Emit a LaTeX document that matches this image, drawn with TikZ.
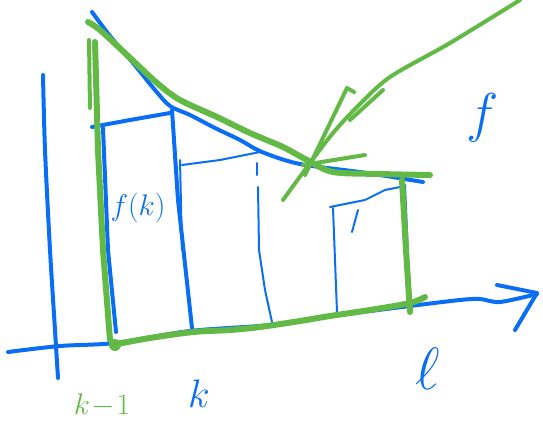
\documentclass[tikz,border=0pt]{standalone}
\usepackage{xcolor}
\definecolor{penblue}{RGB}{10,110,245}
\definecolor{pengreen}{RGB}{98,185,70}
\begin{document}
\begin{tikzpicture}[x=1pt,y=-1pt,line cap=round,line join=round]

    \tikzset{
      bluepen/.style={
        color={penblue},
        line width = 4,
      },
      thinpen/.style={
        color={penblue},
        line width = 2,
      },
      greenpen/.style={
        color={pengreen},
        line width = 6,
      },
      hand/.style={
        font=\Huge,
        scale=#1,
        transform shape,
      },
    }
    \useasboundingbox (0,0) rectangle (543,436);

	% axes
	\draw[bluepen] plot[smooth] coordinates {(43,75) (45,150) (50,250) (55,330) (58,378)};
	\draw[bluepen] plot[smooth] coordinates {(8,352) (60,346) (115,343) (190,331) (270,325) (340,315) (410,306) (460,300) (480,299) (500,302) (537,294)};
	\draw[bluepen] (497,285)--(537,293)--(515,330);
	% the function
	\draw[bluepen] plot[smooth] coordinates {(92,12) (110,36) (133,63) (155,90) (170,106) (190,115) (215,128) (240,140) (262,152) (300,164) (367,173) (423,182)};
	% rectangles
	\draw[bluepen] (92,127)--(130,120)--(170,113);
	\draw[bluepen] (103,128)--(108,250)--(116,332);
	\draw[bluepen] (172,110)--(178,200)--(192,328);
	\draw[thinpen] (180,160)--(182,250);
	\draw[thinpen] (182,165)--(220,160)--(260,152);
	\draw[thinpen] (257,163)--(257,175);
	\draw[thinpen] (258,187)--(259,250)--(265,290)--(272,322);
	\draw[thinpen] (330,207)--(365,200)--(385,190)--(400,187);
	\draw[thinpen] (333,208)--(335,260)--(337,312);
	\draw[thinpen] (358,210)--(352,232);
	\draw[thinpen] (405,185)--(410,300);
	% upper sum
	\draw[greenpen] plot[smooth] coordinates {(88,22) (100,30) (127,55) (157,83) (180,100) (217,117) (250,133) (283,147) (307,160) (333,172) (380,174) (430,175)};
	\draw[greenpen] (95,42)--(98,150)--(103,250)--(110,340);
	\draw[greenpen,line width = 4] (89,40)--(90,108);
	\draw[greenpen] (402,180)--(406,250)--(410,312);
	\draw[greenpen] plot[smooth] coordinates {(112,345) (150,338) (193,332) (230,330) (260,327) (300,321) (330,316) (370,310) (410,303) (425,297)};
	\fill[pengreen] (115,345) circle (6);
	% arrow
	\draw[greenpen,line width = 4] plot[smooth] coordinates {(520,0) (450,43) (390,77) (357,107) (333,133) (310,163) (283,200)};
	\draw[greenpen,line width = 4] (383,90)--(350,120);
	\draw[greenpen,line width = 4] (354,92)--(347,88)--(305,175);
	\draw[greenpen,line width = 4] (303,165)--(365,155);
	% labels
	\node[text={penblue},hand=1.2] (fk) at (138,208) {$f(k)$};
	\node[text={penblue},hand=2.2] (flabel) at (483,118) {$f$};
	\node[text={pengreen},hand=1.2] (kmone) at (102,405) {$k\!-\!1$};
	\node[text={penblue},hand=1.6] (klabel) at (199,394) {$k$};
	\node[text={penblue},hand=2.4] (ell) at (428,369) {$\ell$};

\end{tikzpicture}
\end{document}
